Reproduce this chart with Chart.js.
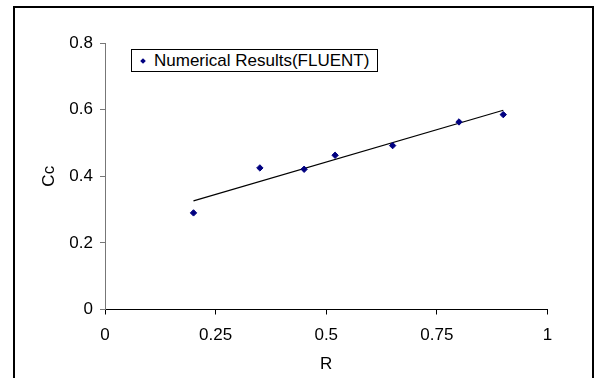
<!DOCTYPE html>
<html>
<head>
<meta charset="utf-8">
<script src="https://cdn.jsdelivr.net/npm/chart.js@4/dist/chart.umd.min.js"></script>
<style>
    html, body { margin: 0; padding: 0; background: #fff; overflow: hidden; }
    #wrap { position: relative; width: 595px; height: 378px; overflow: hidden; }
    #frame { position: absolute; left: 13px; top: 6px; width: 581px; height: 420px; box-sizing: border-box; border: 2px solid #000; }
    #chart { position: absolute; left: 0; top: 0; }
    #legend { position: absolute; left: 131px; top: 49px; width: 247px; height: 23px; box-sizing: border-box; border: 1px solid #000; background: #fff;
              font-family: "Liberation Sans", Arial, sans-serif; font-size: 17px; line-height: 21px; color: #000; white-space: nowrap; }
    #legend .mk { position: absolute; left: 9px; top: 9px; width: 4px; height: 4px; background: #000080; transform: rotate(45deg); }
    #legend .tx { position: absolute; left: 22px; top: 0; }
</style>
</head>
<body>
<div id="wrap">
    <div id="frame"></div>
    <canvas id="chart" width="595" height="378"></canvas>
    <div id="legend"><span class="mk"></span><span class="tx" id="legendText"></span></div>
</div>
<script>
(function () {
    "use strict";

    // Data
    var seriesName = 'Numerical Results(FLUENT)';
    var rValues = [0.2, 0.35, 0.45, 0.52, 0.65, 0.8, 0.9];
    var ccValues = [0.29, 0.425, 0.421, 0.463, 0.492, 0.563, 0.585];

    // Linear trend line end points as drawn
    var trendR = [0.2, 0.9];
    var trendCc = [0.326, 0.598];

    var xTicks = [0, 0.25, 0.5, 0.75, 1];
    var yTicks = [0, 0.2, 0.4, 0.6, 0.8];
    var xTitle = 'R';
    var yTitle = 'Cc';

    document.getElementById('legendText').textContent = seriesName;

    function pairs(xs, ys) {
        return xs.map(function (x, i) { return { x: x, y: ys[i] }; });
    }

    var font = { family: '"Liberation Sans", Arial, sans-serif', size: 17 };

    new Chart(document.getElementById('chart'), {
        type: 'scatter',
        data: {
            datasets: [
                {
                    label: seriesName,
                    data: pairs(rValues, ccValues),
                    pointStyle: 'rectRot',
                    pointRadius: 3.2,
                    backgroundColor: '#000080',
                    borderColor: '#000080',
                    borderWidth: 1,
                    showLine: false
                },
                {
                    label: 'trend',
                    data: pairs(trendR, trendCc),
                    showLine: true,
                    pointRadius: 0,
                    borderColor: '#000',
                    borderWidth: 1.2,
                    fill: false
                }
            ]
        },
        options: {
            responsive: false,
            animation: false,
            layout: { padding: { left: 39, top: 43, right: 47.5, bottom: 3.5 } },
            scales: {
                x: {
                    type: 'linear',
                    min: 0, max: 1,
                    afterFit: function (s) { s.height = 65; },
                    afterBuildTicks: function (s) { s.ticks = xTicks.map(function (v) { return { value: v }; }); },
                    grid: { display: true, drawOnChartArea: false, drawTicks: true, tickLength: 5, color: '#000' },
                    border: { display: true, color: '#000', width: 1 },
                    ticks: { color: '#000', font: font, padding: 11, maxRotation: 0,
                             callback: function (v) { return String(v); } },
                    title: { display: true, text: xTitle, color: '#000', font: font, padding: 0 }
                },
                y: {
                    type: 'linear',
                    min: 0, max: 0.8,
                    afterFit: function (s) { s.width = 66; },
                    afterBuildTicks: function (s) { s.ticks = yTicks.map(function (v) { return { value: v }; }); },
                    grid: { display: true, drawOnChartArea: false, drawTicks: true, tickLength: 5, color: '#777' },
                    border: { display: true, color: '#777', width: 1 },
                    ticks: { color: '#000', font: font, padding: 7,
                             callback: function (v) { return String(v); } },
                    title: { display: true, text: yTitle, color: '#000', font: font, padding: 0 }
                }
            },
            plugins: {
                legend: { display: false },
                tooltip: { enabled: false }
            }
        }
    });
})();
</script>
</body>
</html>
